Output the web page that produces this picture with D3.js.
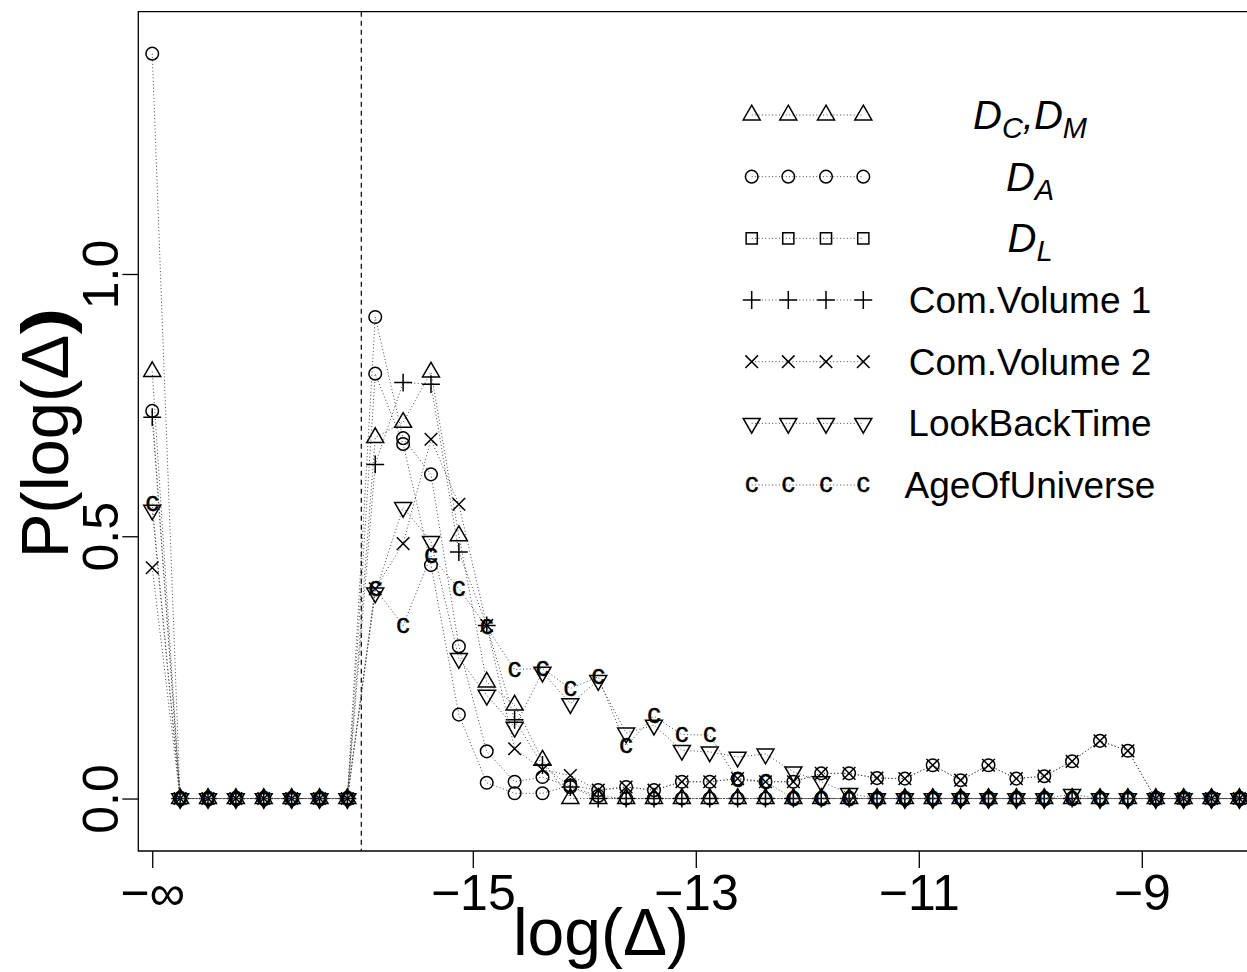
<!DOCTYPE html>
<html lang="en">
<head>
<meta charset="UTF-8">
<title>P(log(Δ))</title>
<script src="https://d3js.org/d3.v7.min.js"></script>
<style>
  body { margin: 0; background: #fff; }
  text { font-family: "Liberation Sans", Arial, Helvetica, sans-serif; fill: #000; }
</style>
</head>
<body>
<script>
    const width  = 1247;
    const height = 972;
    const box = {left: 138.3, right: 1253.3, top: 11.7, bottom: 851};

    // bin centres; the first one stands in for log(Δ) = -∞
    const binCenters = [-17.875, -17.625, -17.375, -17.125, -16.875, -16.625, -16.375, -16.125,
        -15.875, -15.625, -15.375, -15.125, -14.875, -14.625, -14.375, -14.125,
        -13.875, -13.625, -13.375, -13.125, -12.875, -12.625, -12.375, -12.125,
        -11.875, -11.625, -11.375, -11.125, -10.875, -10.625, -10.375, -10.125,
        -9.875, -9.625, -9.375, -9.125, -8.875, -8.625, -8.375, -8.125];

    const xTickValues = [-17.875, -15, -13, -11, -9];
    const xTickLabels = ["\u2212\u221e", "\u221215", "\u221213", "\u221211", "\u22129"];
    const yTickValues = [0, 0.5, 1.0];
    const yTickLabels = ["0.0", "0.5", "1.0"];
    const cutoff = -16;

    const dCdM = [0.814, 0, 0, 0, 0, 0, 0, 0,
        0.688, 0.717, 0.813, 0.501, 0.222, 0.178, 0.073, 0,
        0, 0, 0, 0, 0, 0, 0, 0, 0, 0, 0, 0, 0, 0, 0, 0,
        0, 0, 0, 0, 0, 0, 0, 0];
    const dA = [1.42, 0, 0, 0, 0, 0, 0, 0,
        0.918, 0.687, 0.618, 0.29, 0.09, 0.032, 0.041, 0.022,
        0.005, 0, 0, 0, 0, 0, 0, 0, 0, 0, 0, 0, 0, 0, 0, 0,
        0, 0, 0, 0, 0, 0, 0, 0];
    const dL = [0.739, 0, 0, 0, 0, 0, 0, 0,
        0.81, 0.676, 0.445, 0.16, 0.03, 0.01, 0.01, 0.025,
        0.016, 0.022, 0.016, 0.032, 0.032, 0.038, 0.032, 0.032,
        0.048, 0.048, 0.039, 0.038, 0.0635, 0.035, 0.0635, 0.038,
        0.0426, 0.071, 0.11, 0.091, 0, 0, 0, 0];
    const comVol1 = [0.727, 0, 0, 0, 0, 0, 0, 0,
        0.637, 0.793, 0.79, 0.47, 0.33, 0.15, 0.064, 0.022,
        0, 0, 0, 0, 0, 0, 0, 0, 0, 0, 0, 0, 0, 0, 0, 0,
        0, 0, 0, 0, 0, 0, 0, 0];
    const comVol2 = [0.44, 0, 0, 0, 0, 0, 0, 0,
        0.40, 0.486, 0.685, 0.561, 0.33, 0.095, 0.055, 0.044,
        0.016, 0.022, 0.016, 0.032, 0.032, 0.038, 0.032, 0.032,
        0.048, 0.048, 0.039, 0.038, 0.0635, 0.035, 0.0635, 0.038,
        0.0426, 0.071, 0.11, 0.091, 0, 0, 0, 0];
    const lookBack = [0.55, 0, 0, 0, 0, 0, 0, 0,
        0.392, 0.555, 0.49, 0.267, 0.197, 0.136, 0.241, 0.181,
        0.225, 0.125, 0.14, 0.092, 0.089, 0.079, 0.085, 0.051,
        0.032, 0.0097, 0, 0, 0, 0, 0, 0,
        0, 0.008, 0, 0, 0, 0, 0, 0];
    const ageUniverse = [0.562, 0, 0, 0, 0, 0, 0, 0,
        0.40, 0.33, 0.462, 0.40, 0.327, 0.246, 0.248, 0.21,
        0.232, 0.10, 0.157, 0.122, 0.121, 0.035, 0.032, 0,
        0, 0, 0, 0, 0, 0, 0, 0, 0, 0, 0, 0, 0, 0, 0, 0];

    // plotted symbol, legend symbol
    const series = [
        {values: dCdM,        pch: "triUp",   key: "triUp"},
        {values: dA,          pch: "circle",  key: "circle"},
        {values: dL,          pch: "circle",  key: "square"},
        {values: comVol1,     pch: "plus",    key: "plus"},
        {values: comVol2,     pch: "cross",   key: "cross"},
        {values: lookBack,    pch: "triDown", key: "triDown"},
        {values: ageUniverse, pch: "c",       key: "c"}
    ];
    const legendLabels = [
        [["D", ""], ["C", "sub"], [",", ""], ["D", ""], ["M", "sub"]],
        [["D", ""], ["A", "sub"]],
        [["D", ""], ["L", "sub"]],
        "Com.Volume 1", "Com.Volume 2", "LookBackTime", "AgeOfUniverse"
    ];

    const x = d3.scaleLinear().domain([-18, -8]).range([box.left, box.right]);
    const y = d3.scaleLinear().domain([-0.1, 1.5]).range([box.bottom, box.top]);

    const R = 6.3;
    function shape(type) {
        const t0 = 1.5551 * R, t1 = 1.3468 * R, t2 = 0.7776 * R;
        switch (type) {
            case "circle": return d3.arc()({innerRadius: 0, outerRadius: R, startAngle: 0, endAngle: 2 * Math.PI});
            case "triUp": return `M0,${-t0}L${t1},${t2}L${-t1},${t2}Z`;
            case "triDown": return `M0,${t0}L${t1},${-t2}L${-t1},${-t2}Z`;
            case "square": { const s = 0.886 * R; return `M${-s},${-s}H${s}V${s}H${-s}Z`; }
            case "plus": { const s = Math.SQRT2 * R; return `M${-s},0H${s}M0,${-s}V${s}`; }
            case "cross": return `M${-R},${-R}L${R},${R}M${-R},${R}L${R},${-R}`;
        }
    }
    function drawMarker(g, type, px, py) {
        if (type === "c") {
            g.append("text").attr("x", px).attr("y", py).attr("dy", "0.27em")
                .attr("text-anchor", "middle").attr("font-size", 27)
                .attr("stroke", "#000").attr("stroke-width", 0.4).text("c");
        } else {
            g.append("path").attr("d", shape(type))
                .attr("transform", "translate(" + [px, py] + ")")
                .attr("fill", "none").attr("stroke", "#000").attr("stroke-width", 1.5);
        }
    }

    const svg = d3.select("body").append("svg").attr("width", width).attr("height", height);

    // dashed cutoff line
    svg.append("line")
        .attr("x1", x(cutoff)).attr("x2", x(cutoff))
        .attr("y1", box.top).attr("y2", box.bottom)
        .attr("stroke", "#000").attr("stroke-width", 1.2).attr("stroke-dasharray", "5,4");

    const line = d3.line().x((d, i) => x(binCenters[i])).y(d => y(d));

    series.forEach(s => {
        const g = svg.append("g").attr("class", "dataset");
        g.append("path").datum(s.values).attr("d", line)
            .attr("fill", "none").attr("stroke", "#444").attr("stroke-width", 1)
            .attr("stroke-dasharray", "1,2.4");
        s.values.forEach((v, i) => drawMarker(g, s.pch, x(binCenters[i]), y(v)));
    });

    // box
    svg.append("path")
        .attr("d", `M${box.right},${box.top}H${box.left}V${box.bottom}H${box.right}`)
        .attr("fill", "none").attr("stroke", "#000").attr("stroke-width", 1.3);

    const xAxis = d3.axisBottom(x).tickValues(xTickValues)
        .tickFormat((d, i) => xTickLabels[i]).tickSize(17).tickPadding(6);
    const gx = svg.append("g").attr("transform", "translate(0," + box.bottom + ")").call(xAxis);
    gx.select(".domain").remove();
    gx.selectAll(".tick line").attr("stroke-width", 1.3);
    gx.selectAll(".tick text").attr("font-size", 50).attr("font-family", null);

    const yAxis = d3.axisLeft(y).tickValues(yTickValues)
        .tickFormat((d, i) => yTickLabels[i]).tickSize(16);
    const gy = svg.append("g").attr("transform", "translate(" + box.left + ",0)").call(yAxis);
    gy.select(".domain").remove();
    gy.selectAll(".tick line").attr("stroke-width", 1.3);
    gy.selectAll(".tick text").attr("font-size", 50).attr("font-family", null)
        .attr("transform", "rotate(-90)").attr("x", 0).attr("y", -20).attr("dy", 0)
        .attr("text-anchor", "middle");

    // axis titles
    svg.append("text").attr("x", 601).attr("y", 955).attr("text-anchor", "middle")
        .attr("font-size", 66).text("log(\u0394)");
    const yl = svg.append("text").attr("transform", "translate(68,433) rotate(-90)")
        .attr("text-anchor", "middle").attr("font-size", 67);
    yl.append("tspan").text("P(log(\u0394)");
    yl.append("tspan").attr("dx", "-0.26em").text(")");

    // legend
    const legX = [751.7, 788.3, 826, 863.3];
    const legRow = d3.scaleLinear().domain([0, 6]).range([115, 485]);
    series.forEach((s, i) => {
        const g = svg.append("g").attr("class", "legend");
        const ly = legRow(i);
        g.append("line").attr("x1", legX[0]).attr("x2", legX[3]).attr("y1", ly).attr("y2", ly)
            .attr("stroke", "#444").attr("stroke-width", 1).attr("stroke-dasharray", "1,2.4");
        legX.forEach(lx => drawMarker(g, s.key, lx, ly));
        const t = g.append("text").attr("x", 1030).attr("y", ly + 13)
            .attr("text-anchor", "middle").attr("font-size", 37);
        const lab = legendLabels[i];
        if (typeof lab === "string") {
            t.text(lab);
        } else {
            t.attr("font-style", "italic").attr("font-size", 40).attr("y", ly + 14);
            lab.forEach(([str, kind], k) => {
                const ts = t.append("tspan").text(str);
                if (kind === "sub") ts.attr("font-size", 29).attr("dy", 9);
                else if (k > 0 && lab[k - 1][1] === "sub") ts.attr("dy", -9);
            });
        }
    });
</script>
</body>
</html>
